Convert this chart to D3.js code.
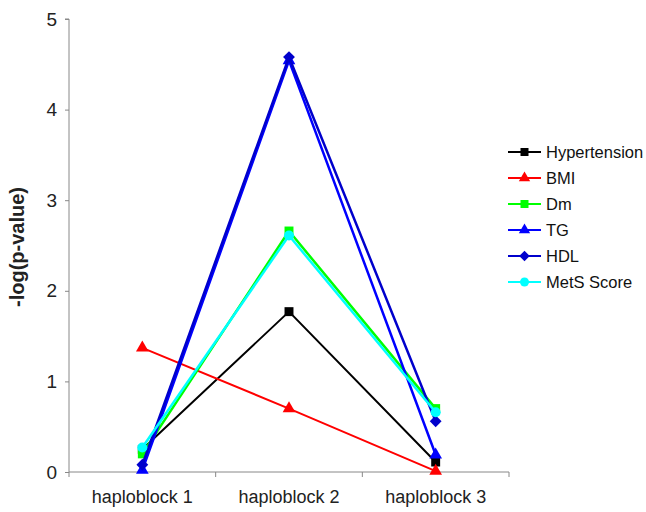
<!DOCTYPE html>
<html><head><meta charset="utf-8">
<script src="https://cdn.jsdelivr.net/npm/d3@7"></script>
<style>body{margin:0;background:#fff}svg{display:block}</style>
</head><body><svg id="c" width="646" height="512"></svg>
<script>
const categories = ["haploblock 1", "haploblock 2", "haploblock 3"];
const hypertension = [0.25, 1.77, 0.11];
const bmi = [1.37, 0.70, 0.01];
const dm = [0.20, 2.66, 0.70];
const tg = [0.02, 4.54, 0.19];
const hdl = [0.08, 4.58, 0.56];
const mets = [0.27, 2.61, 0.66];
const yTicks = [0, 1, 2, 3, 4, 5];
const seriesNames = ["Hypertension", "BMI", "Dm", "TG", "HDL", "MetS Score"];

const series = [
  {name: seriesNames[0], values: hypertension, color: "#000000", shape: "square", w: 2},
  {name: seriesNames[1], values: bmi, color: "#ff0000", shape: "triangle", w: 2},
  {name: seriesNames[2], values: dm, color: "#00ff00", shape: "square", w: 2.5},
  {name: seriesNames[3], values: tg, color: "#0000ff", shape: "triangle", w: 2.5},
  {name: seriesNames[4], values: hdl, color: "#0000cc", shape: "diamond", w: 2.5},
  {name: seriesNames[5], values: mets, color: "#00ffff", shape: "circle", w: 2.5}
];

const svg = d3.select("#c");
const x = d3.scaleBand().domain(categories).range([69, 509]);
const y = d3.scaleLinear().domain([0, 5]).range([472, 19]);
const font = "Liberation Sans, Arial, sans-serif";

// y axis
const ya = svg.append("g").attr("transform", "translate(69,0)")
  .call(d3.axisLeft(y).tickValues(yTicks).tickSize(4).tickPadding(8).tickFormat(d3.format("d")));
ya.select(".domain").attr("stroke", "#888").attr("d", `M-4,${y(5)}H0V${y(0)}`);
ya.selectAll(".tick line").attr("stroke", "#888");
ya.selectAll("text").attr("font-family", font).attr("font-size", 19).attr("fill", "#222");

// x axis
const xa = svg.append("g").attr("transform", "translate(0,472)")
  .call(d3.axisBottom(x).tickSize(0).tickPadding(18));
xa.select(".domain").attr("stroke", "#888").attr("d", "M69,0H509");
xa.selectAll("text").attr("font-family", font).attr("font-size", 18).attr("fill", "#222");
const edges = [x.range()[0]].concat(categories.map(c => x(c) + x.bandwidth()));
svg.append("g").selectAll("line").data(edges).join("line")
  .attr("x1", d => d).attr("x2", d => d).attr("y1", 472).attr("y2", 477).attr("stroke", "#888");

// y title
svg.append("text").attr("transform", "translate(24,247) rotate(-90)")
  .attr("text-anchor", "middle").attr("font-family", font).attr("font-weight", "bold")
  .attr("font-size", 20).attr("fill", "#222").text("-log(p-value)");

const cx = c => x(c) + x.bandwidth() / 2;
const diamond = { draw(ctx, size) { const r = Math.sqrt(size / 2); ctx.moveTo(0, -r); ctx.lineTo(r, 0); ctx.lineTo(0, r); ctx.lineTo(-r, 0); ctx.closePath(); } };
const symbols = {square: d3.symbolSquare, triangle: d3.symbolTriangle, diamond: diamond, circle: d3.symbolCircle};
const sizes = {square: 80, triangle: 70, diamond: 70, circle: 80};
function marker(g, s, k) {
  return g.append("path").attr("d", d3.symbol().type(symbols[s.shape]).size(sizes[s.shape] * (k || 1))())
    .attr("fill", s.color);
}

const line = d3.line().x((d, i) => cx(categories[i])).y(d => y(d));
series.forEach(s => {
  const g = svg.append("g");
  g.append("path").attr("d", line(s.values)).attr("fill", "none")
    .attr("stroke", s.color).attr("stroke-width", s.w).attr("stroke-linejoin", "round");
  s.values.forEach((v, i) => {
    marker(g, s).attr("transform", `translate(${cx(categories[i])},${y(v)})`);
  });
});

// legend
const lg = svg.append("g");
series.forEach((s, i) => {
  const yy = 152 + i * 26;
  lg.append("line").attr("x1", 508).attr("x2", 541).attr("y1", yy).attr("y2", yy)
    .attr("stroke", s.color).attr("stroke-width", 2);
  marker(lg, s, 0.8).attr("transform", `translate(524.5,${yy})`);
  lg.append("text").attr("x", 546).attr("y", yy + 6).attr("font-family", font)
    .attr("font-size", 16.5).attr("fill", "#111").text(s.name);
});
</script></body></html>
